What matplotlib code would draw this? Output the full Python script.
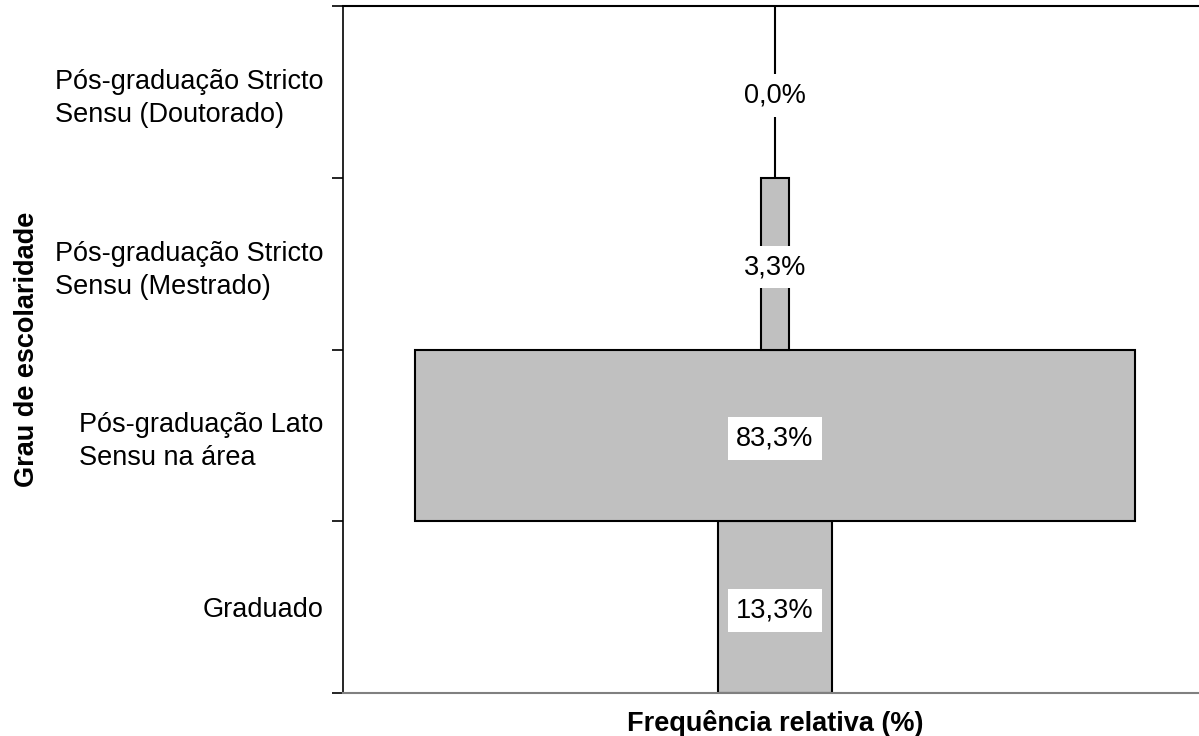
import numpy as np
import matplotlib
matplotlib.use("Agg")
import matplotlib.pyplot as plt

plt.rcParams['font.family'] = ['Liberation Sans', 'DejaVu Sans']

# Dados
categorias = ['Graduado',
              'Pós-graduação Lato\nSensu na área',
              'Pós-graduação Stricto\nSensu (Mestrado)',
              'Pós-graduação Stricto\nSensu (Doutorado)']
valores = [13.3, 83.3, 3.3, 0.0]
rotulos = ['13,3%', '83,3%', '3,3%', '0,0%']

fig = plt.figure(figsize=(11.99, 7.36), dpi=100)
ax = fig.add_axes([343/1199, 43/736, 864/1199, 687/736])

y = np.arange(len(categorias))
valores = np.array(valores)
ax.barh(y, valores, left=-valores/2, height=1.0, color='#c0c0c0',
        edgecolor='black', linewidth=1.5)

for yi, rot in zip(y, rotulos):
    ax.text(0, yi - 0.02, rot, ha='center', va='center', fontsize=19.5,
            bbox=dict(facecolor='white', edgecolor='none', pad=6))

ax.set_xlim(-50, 50)
ax.set_ylim(-0.5, len(categorias) - 0.5)

# ticks nas divisões, rótulos no centro
ax.set_yticks(np.arange(-0.5, len(categorias)), labels=[''] * (len(categorias) + 1))
ax.set_yticks(y, labels=categorias, minor=True)
ax.tick_params(axis='y', which='major', length=8, width=1.2, direction='out')
ax.tick_params(axis='y', which='minor', length=0, pad=14, labelsize=19.5)
for t in ax.get_yticklabels(minor=True):
    t.set_multialignment('left')
    t.set_linespacing(1.35)
ax.set_xticks([])

ax.spines['right'].set_visible(False)
ax.spines['left'].set_linewidth(1.2)
ax.spines['top'].set_linewidth(1.5)
ax.spines['bottom'].set_color('#808080')
ax.spines['bottom'].set_linewidth(1.5)

ax.set_xlabel('Frequência relativa (%)', fontsize=19.5, fontweight='bold', labelpad=12)
ax.set_ylabel('Grau de escolaridade', fontsize=19.5, fontweight='bold', labelpad=11)

fig.savefig('out.png', dpi=100)
